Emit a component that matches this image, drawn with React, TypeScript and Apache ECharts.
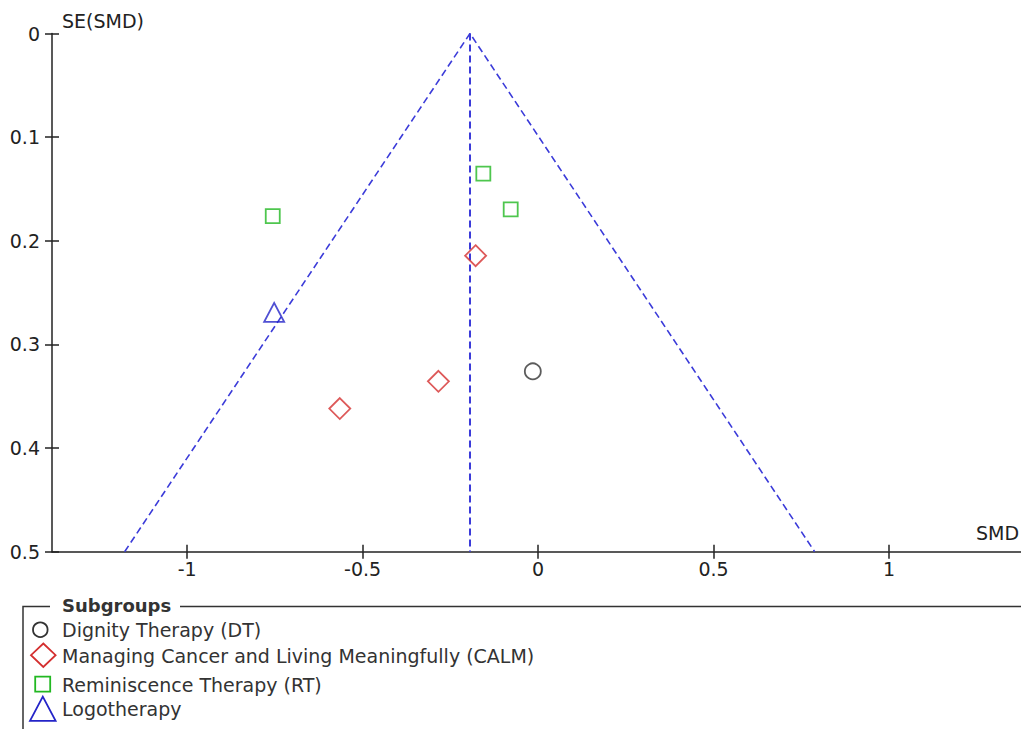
import React, { useEffect, useRef } from "react";
import * as echarts from "echarts";

// ---- data ----
const dtSMD = [-0.015];
const dtSE = [0.326];
const calmSMD = [-0.178, -0.284, -0.565];
const calmSE = [0.2144, 0.3356, 0.3619];
const rtSMD = [-0.756, -0.156, -0.078];
const rtSE = [0.1763, 0.1352, 0.1697];
const logoSMD = [-0.752];
const logoSE = [0.2691];

const pooledSMD = -0.194;
const funnelSMD = [-1.178, pooledSMD, 0.788];
const funnelSE = [0.5, 0, 0.5];
const centerSE = [0, 0.5];

const xTicks = [-1, -0.5, 0, 0.5, 1];
const legendNames = [
  "Dignity Therapy (DT)",
  "Managing Cancer and Living Meaningfully (CALM)",
  "Reminiscence Therapy (RT)",
  "Logotherapy",
];

const FONT = "DejaVu Sans";
const C_DT = "#333333";
const C_CALM = "#d42f2f";
const C_RT = "#22b822";
const C_LOGO = "#2424c8";
const C_FUNNEL = "#3b3bd9";

const zip = (xs: number[], ys: number[]) => xs.map((x, i) => [x, ys[i]]);

export default function App() {
  const ref = useRef<HTMLDivElement>(null);
  useEffect(() => {
    if (!ref.current) return;
    document.body.style.overflow = "hidden";
    document.body.style.margin = "0";
    const chart = echarts.init(ref.current, null, { renderer: "svg", width: 1021, height: 729 });
    const gridBox = {
      left: 52,
      right: 0,
      top: 33.5,
      bottom: 177.3,
      containLabel: false,
      outerBoundsMode: "none",
    };
    const xBase = {
      type: "value" as const,
      min: -1.385,
      max: 1.376,
      splitLine: { show: false },
    };
    const yBase = {
      type: "value" as const,
      min: 0,
      max: 0.5,
      interval: 0.1,
      inverse: true,
      splitLine: { show: false },
    };
    const tickStyle = { color: "#222", width: 1.5 };
    const legendY = [630, 656, 684.5, 709];
    chart.setOption({
      animation: false,
      backgroundColor: "#ffffff",
      grid: [gridBox, { ...gridBox }],
      xAxis: [
        {
          ...xBase,
          gridIndex: 0,
          position: "bottom",
          name: "SMD",
          nameLocation: "end",
          nameGap: -45,
          nameTextStyle: {
            fontFamily: FONT,
            fontSize: 19,
            color: "#222",
            align: "left",
            verticalAlign: "bottom",
            padding: [0, 0, 9, 0],
          },
          axisLine: { show: true, onZero: false, lineStyle: { color: "#222", width: 1.5 } },
          axisTick: { show: true, inside: false, length: 7, customValues: xTicks, lineStyle: tickStyle },
          axisLabel: {
            show: true,
            customValues: xTicks,
            margin: 8,
            fontFamily: FONT,
            fontSize: 19,
            color: "#222",
          },
        },
        {
          ...xBase,
          gridIndex: 1,
          position: "bottom",
          axisLine: { show: false, onZero: false },
          axisTick: { show: true, inside: true, length: 7, customValues: xTicks, lineStyle: tickStyle },
          axisLabel: { show: false },
        },
      ],
      yAxis: [
        {
          ...yBase,
          gridIndex: 0,
          position: "left",
          name: "SE(SMD)",
          nameLocation: "start",
          nameGap: 13,
          nameTextStyle: {
            fontFamily: FONT,
            fontSize: 19,
            color: "#222",
            align: "left",
            verticalAlign: "middle",
            padding: [0, 0, 0, 10],
          },
          axisLine: { show: true, onZero: false, lineStyle: { color: "#222", width: 1.5 } },
          axisTick: { show: true, inside: false, length: 7, lineStyle: tickStyle },
          axisLabel: { show: true, margin: 12, fontFamily: FONT, fontSize: 19, color: "#222" },
        },
        {
          ...yBase,
          gridIndex: 1,
          position: "left",
          axisLine: { show: false, onZero: false },
          axisTick: { show: true, inside: true, length: 7, lineStyle: tickStyle },
          axisLabel: { show: false },
        },
      ],
      series: [
        {
          name: "funnel",
          type: "line",
          silent: true,
          symbol: "none",
          data: zip(funnelSMD, funnelSE),
          lineStyle: { color: C_FUNNEL, width: 1.6, type: [7, 4] },
          z: 1,
        },
        {
          name: "pooled",
          type: "line",
          silent: true,
          symbol: "none",
          data: zip([pooledSMD, pooledSMD], centerSE),
          lineStyle: { color: C_FUNNEL, width: 2, type: [7, 4] },
          z: 1,
        },
        {
          name: legendNames[0],
          type: "scatter",
          symbol: "circle",
          symbolSize: 16,
          data: zip(dtSMD, dtSE),
          itemStyle: { color: "rgba(0,0,0,0)", borderColor: C_DT, borderWidth: 1.8 },
          z: 3,
        },
        {
          name: legendNames[1],
          type: "scatter",
          symbol: "diamond",
          symbolSize: 21,
          data: zip(calmSMD, calmSE),
          itemStyle: { color: "rgba(0,0,0,0)", borderColor: C_CALM, borderWidth: 1.8 },
          z: 3,
        },
        {
          name: legendNames[2],
          type: "scatter",
          symbol: "rect",
          symbolSize: 14,
          data: zip(rtSMD, rtSE),
          itemStyle: { color: "rgba(0,0,0,0)", borderColor: C_RT, borderWidth: 1.8 },
          z: 3,
        },
        {
          name: legendNames[3],
          type: "scatter",
          symbol: "triangle",
          symbolSize: [20, 19],
          data: zip(logoSMD, logoSE),
          itemStyle: { color: "rgba(0,0,0,0)", borderColor: C_LOGO, borderWidth: 1.8 },
          z: 3,
        },
      ],
      graphic: [
        {
          type: "polyline",
          shape: { points: [[50, 606.5], [23, 606.5], [23, 729]] },
          style: { stroke: "#333", lineWidth: 1.5, fill: "none" },
          silent: true,
        },
        {
          type: "line",
          shape: { x1: 180, y1: 606.5, x2: 1021, y2: 606.5 },
          style: { stroke: "#333", lineWidth: 1.5 },
          silent: true,
        },
        {
          type: "text",
          x: 62,
          y: 605,
          style: {
            text: "Subgroups",
            fontFamily: FONT,
            fontSize: 18,
            fontWeight: "bold",
            fill: "#333",
            verticalAlign: "middle",
            align: "left",
          },
        },
        {
          type: "circle",
          shape: { cx: 40.3, cy: 629.7, r: 7.3 },
          style: { stroke: C_DT, lineWidth: 1.8, fill: "none" },
        },
        {
          type: "polygon",
          shape: { points: [[43.3, 643.5], [55.6, 655.2], [43.3, 667], [31, 655.2]] },
          style: { stroke: C_CALM, lineWidth: 1.8, fill: "none" },
        },
        {
          type: "rect",
          shape: { x: 35.2, y: 676.7, width: 15, height: 15 },
          style: { stroke: C_RT, lineWidth: 1.8, fill: "none" },
        },
        {
          type: "polygon",
          shape: { points: [[42.8, 696.6], [55.6, 720.8], [30, 720.8]] },
          style: { stroke: C_LOGO, lineWidth: 1.8, fill: "none" },
        },
        ...legendNames.map((t, i) => ({
          type: "text",
          x: 62,
          y: legendY[i],
          style: {
            text: t,
            fontFamily: FONT,
            fontSize: 19,
            fill: "#333",
            verticalAlign: "middle",
            align: "left",
          },
        })),
      ],
    });
    return () => chart.dispose();
  }, []);
  return (
    <div
      ref={ref}
      style={{ position: "absolute", left: 0, top: 0, width: 1021, height: 729, overflow: "hidden" }}
    />
  );
}
